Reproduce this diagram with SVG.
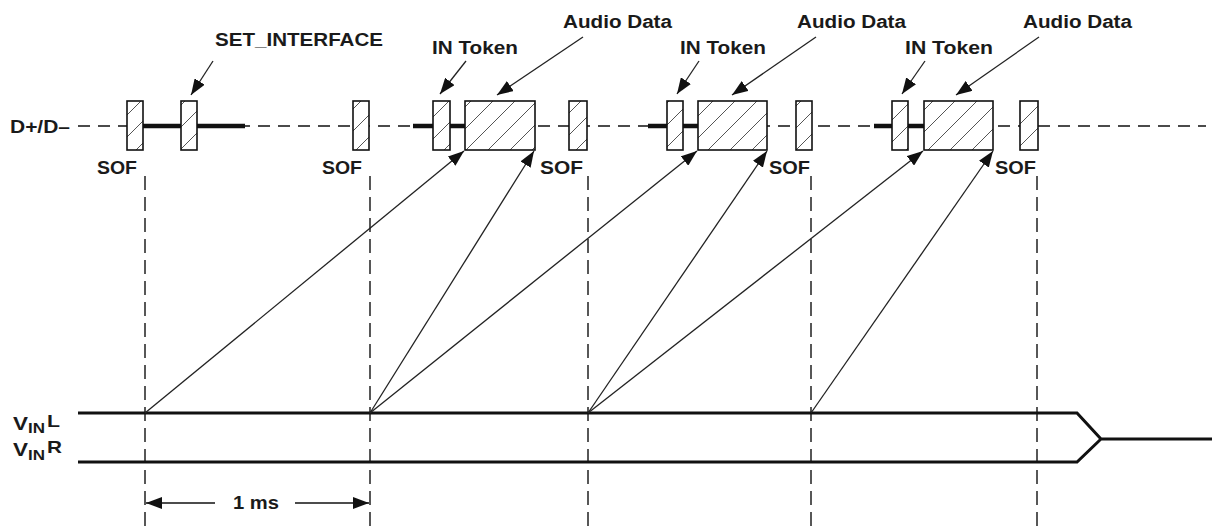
<svg xmlns="http://www.w3.org/2000/svg" width="1212" height="529" viewBox="0 0 1212 529">
<style>
text{font-family:"Liberation Sans",Arial,sans-serif;font-weight:bold;fill:#1a1a1a;font-size:18px}
.box{fill:url(#hatch);stroke:#111;stroke-width:1.6}
.bus{stroke:#111;stroke-width:1.4;stroke-dasharray:12 8;fill:none}
.thick{stroke:#111;stroke-width:4.5;fill:none}
.vdash{stroke:#111;stroke-width:1.4;stroke-dasharray:14 7;fill:none}
.sig{stroke:#111;stroke-width:3;fill:none;stroke-linejoin:miter}
.arr{stroke:#222;stroke-width:1.3;fill:none;marker-end:url(#ah)}
.dim{stroke:#111;stroke-width:1.5;fill:none}
</style>
<defs>
<pattern id="hatch" patternUnits="userSpaceOnUse" width="22" height="22">
<rect width="22" height="22" fill="#fff"/>
<path d="M-2,24 L24,-2 M-13,13 L13,-13 M9,35 L35,9" stroke="#555" stroke-width="1"/>
</pattern>
<marker id="ah" markerUnits="userSpaceOnUse" markerWidth="16" markerHeight="12" refX="16" refY="6" orient="auto">
<path d="M0,0 L16,6 L0,12 z" fill="#111"/>
</marker>
<marker id="ahs" markerUnits="userSpaceOnUse" markerWidth="16" markerHeight="12" refX="16" refY="6" orient="auto">
<path d="M0,0 L16,6 L0,12 z" fill="#111"/>
</marker>
</defs>

<g id="bus-line">
<text x="10" y="133" textLength="60" lengthAdjust="spacingAndGlyphs">D+/D–</text>
<line class="bus" x1="78" y1="126" x2="1206" y2="126"/>
<path class="thick" d="M143,126 H181 M197,126 H245 M413,126 H433 M450,126 H465 M648,126 H667 M683,126 H698 M874,126 H892 M908,126 H924"/>
</g>

<g id="sof1"><rect class="box" x="127" y="101" width="16" height="49"/><text x="97" y="174" textLength="40" lengthAdjust="spacingAndGlyphs">SOF</text></g>
<g id="set-interface"><rect class="box" x="181" y="101" width="16" height="49"/><text x="215" y="46" textLength="168" lengthAdjust="spacingAndGlyphs">SET_INTERFACE</text></g>
<g id="sof2"><rect class="box" x="353" y="101" width="16" height="49"/><text x="322" y="174" textLength="40" lengthAdjust="spacingAndGlyphs">SOF</text></g>

<g id="in-token1"><rect class="box" x="433" y="101" width="17" height="49"/><text x="432" y="54" textLength="86" lengthAdjust="spacingAndGlyphs">IN Token</text></g>
<g id="audio1"><rect class="box" x="465" y="101" width="70" height="49"/><text x="563" y="28" textLength="109" lengthAdjust="spacingAndGlyphs">Audio Data</text></g>
<g id="sof3"><rect class="box" x="569" y="101" width="18" height="49"/><text x="540" y="174" textLength="43" lengthAdjust="spacingAndGlyphs">SOF</text></g>

<g id="in-token2"><rect class="box" x="667" y="101" width="16" height="49"/><text x="680" y="54" textLength="86" lengthAdjust="spacingAndGlyphs">IN Token</text></g>
<g id="audio2"><rect class="box" x="698" y="101" width="69" height="49"/><text x="797" y="28" textLength="109" lengthAdjust="spacingAndGlyphs">Audio Data</text></g>
<g id="sof4"><rect class="box" x="796" y="101" width="16" height="49"/><text x="769" y="174" textLength="41" lengthAdjust="spacingAndGlyphs">SOF</text></g>

<g id="in-token3"><rect class="box" x="892" y="101" width="16" height="49"/><text x="905" y="54" textLength="88" lengthAdjust="spacingAndGlyphs">IN Token</text></g>
<g id="audio3"><rect class="box" x="924" y="101" width="69" height="49"/><text x="1023" y="28" textLength="109" lengthAdjust="spacingAndGlyphs">Audio Data</text></g>
<g id="sof5"><rect class="box" x="1020" y="101" width="18" height="49"/><text x="995" y="174" textLength="41" lengthAdjust="spacingAndGlyphs">SOF</text></g>

<g id="vin">
<text x="13" y="430" textLength="15" lengthAdjust="spacingAndGlyphs">V</text>
<text x="28" y="433" style="font-size:14px" textLength="17" lengthAdjust="spacingAndGlyphs">IN</text>
<text x="47" y="427" style="font-size:17px" textLength="13" lengthAdjust="spacingAndGlyphs">L</text>
<text x="13" y="456" textLength="15" lengthAdjust="spacingAndGlyphs">V</text>
<text x="28" y="460" style="font-size:14px" textLength="17" lengthAdjust="spacingAndGlyphs">IN</text>
<text x="47" y="453" style="font-size:17px" textLength="15" lengthAdjust="spacingAndGlyphs">R</text>
<path class="sig" d="M78,413 H1077 L1101,439 H1212 M78,462 H1077 L1101,439"/>
</g>

<g id="timing">
<path class="vdash" d="M145,176 V529 M370,176 V529 M588,176 V529 M811,176 V529 M1037,176 V529"/>
<line class="dim" x1="215" y1="503" x2="146" y2="503" marker-end="url(#ahs)"/>
<line class="dim" x1="295" y1="503" x2="369" y2="503" marker-end="url(#ahs)"/>
<text x="233" y="509" textLength="46" lengthAdjust="spacingAndGlyphs">1 ms</text>
</g>

<g id="connectors">
<line class="arr" x1="213" y1="61" x2="191" y2="95"/>
<line class="arr" x1="466" y1="61" x2="440" y2="94"/>
<line class="arr" x1="583" y1="37" x2="497" y2="95"/>
<line class="arr" x1="699" y1="61" x2="677" y2="94"/>
<line class="arr" x1="816" y1="37" x2="732" y2="95"/>
<line class="arr" x1="925" y1="61" x2="902" y2="94"/>
<line class="arr" x1="1039" y1="37" x2="956" y2="95"/>
<line class="arr" x1="145" y1="413" x2="464" y2="151"/>
<line class="arr" x1="370" y1="413" x2="534" y2="151"/>
<line class="arr" x1="370" y1="413" x2="697" y2="151"/>
<line class="arr" x1="588" y1="413" x2="767" y2="151"/>
<line class="arr" x1="588" y1="413" x2="923" y2="151"/>
<line class="arr" x1="811" y1="413" x2="993" y2="151"/>
</g>
</svg>
